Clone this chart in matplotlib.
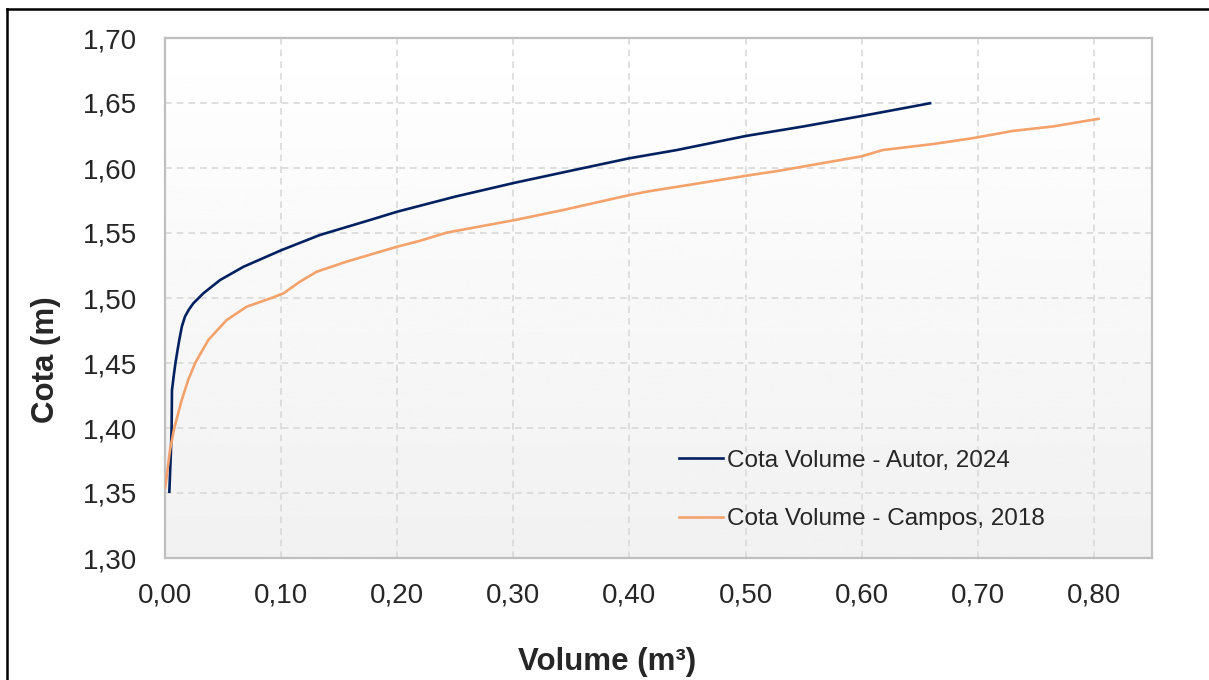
import matplotlib
matplotlib.use("Agg")
import matplotlib.pyplot as plt
import numpy as np
from matplotlib.ticker import FuncFormatter, MultipleLocator
from matplotlib.lines import Line2D

plt.rcParams['font.family'] = ['Liberation Sans', 'DejaVu Sans']

# Cota Volume - Autor, 2024
autor_vol = [0.0037, 0.0050, 0.0057, 0.0060, 0.0075, 0.0090, 0.0110, 0.0123,
             0.0145, 0.0172, 0.0205, 0.0244, 0.0330, 0.0474, 0.0675, 0.1005,
             0.1335, 0.1766, 0.200, 0.250, 0.3015, 0.350, 0.400, 0.4407,
             0.500, 0.550, 0.600, 0.660]
autor_cota = [1.350, 1.380, 1.400, 1.429, 1.440, 1.450, 1.461, 1.4677,
              1.478, 1.4857, 1.491, 1.4959, 1.5036, 1.5138, 1.524, 1.5369,
              1.5485, 1.560, 1.5664, 1.578, 1.5887, 1.598, 1.6075, 1.6138,
              1.6246, 1.632, 1.640, 1.650]

# Cota Volume - Campos, 2018
campos_vol = [0.000, 0.0043, 0.008, 0.0144, 0.020, 0.026, 0.0373, 0.053,
              0.0703, 0.0933, 0.102, 0.1163, 0.1306, 0.1565, 0.200, 0.2196,
              0.2426, 0.3015, 0.343, 0.400, 0.4149, 0.500, 0.5297, 0.600,
              0.618, 0.662, 0.696, 0.730, 0.765, 0.805]
campos_cota = [1.353, 1.383, 1.400, 1.4215, 1.437, 1.450, 1.4677, 1.483,
               1.4933, 1.5005, 1.5036, 1.5126, 1.5202, 1.528, 1.5395, 1.544,
               1.5503, 1.560, 1.5677, 1.5792, 1.5818, 1.594, 1.598, 1.609,
               1.6138, 1.6185, 1.623, 1.6285, 1.632, 1.638]

labels = ['Cota Volume - Autor, 2024', 'Cota Volume - Campos, 2018']
colors = ['#002060', '#f4a26c']

fig = plt.figure(figsize=(12.09, 6.80), dpi=100)
ax = fig.add_axes([165 / 1209, 1 - 558 / 680, (1152 - 165) / 1209, (558 - 38) / 680])

# gradient background of plot area
grad = np.linspace(1.0, 0.945, 256).reshape(-1, 1)
ax.imshow(grad, extent=[0, 0.85, 1.30, 1.70], aspect='auto', cmap='gray',
          vmin=0, vmax=1, zorder=0, origin='upper')

ax.plot(autor_vol, autor_cota, color=colors[0], lw=1.9, zorder=3,
        solid_capstyle='butt', solid_joinstyle='round')
ax.plot(campos_vol, campos_cota, color=colors[1], lw=1.9, zorder=3,
        solid_capstyle='butt', solid_joinstyle='round')

ax.set_xlim(0, 0.85)
ax.set_ylim(1.30, 1.70)
ax.yaxis.set_major_locator(MultipleLocator(0.05))
fmt = FuncFormatter(lambda v, p: f"{v:.2f}".replace('.', ','))
ax.xaxis.set_major_formatter(fmt)
ax.yaxis.set_major_formatter(fmt)
ax.set_xticks([0, 0.1, 0.2, 0.3, 0.4, 0.5, 0.6, 0.7, 0.8])

ax.grid(True, color='#d9d9d9', linestyle=(0, (4, 3)), linewidth=1.2, zorder=1)
ax.set_axisbelow(True)
for s in ax.spines.values():
    s.set_color('#bfbfbf')
    s.set_linewidth(1.6)

ax.tick_params(axis='both', length=0, labelsize=20, colors='#262626')
ax.tick_params(axis='y', pad=20)
ax.tick_params(axis='x', pad=18)

fig.text(46 / 1209, 1 - 360 / 680, 'Cota (m)', rotation=90, ha='center',
         va='center', fontsize=22.5, fontweight='bold', color='#262626')
fig.text(607 / 1209, 1 - 662 / 680, 'Volume (m³)', ha='center', va='center',
         fontsize=22.5, fontweight='bold', color='#262626')

handles = [Line2D([0], [0], color=c, lw=1.9) for c in colors]
fig.legend(handles, labels, loc='upper left',
           bbox_to_anchor=(657 / 1209, 1 - 428 / 680), frameon=False,
           fontsize=17.5, handlelength=1.8, handletextpad=0.2,
           labelspacing=1.5, labelcolor='#262626')

# outer border (top and left)
fig.add_artist(Line2D([7 / 1209, 7 / 1209], [0, 1 - 9 / 680],
                      transform=fig.transFigure, color='black', lw=1.8))
fig.add_artist(Line2D([7 / 1209, 1], [1 - 9 / 680, 1 - 9 / 680],
                      transform=fig.transFigure, color='black', lw=1.8))

fig.savefig('out.png', dpi=100)
